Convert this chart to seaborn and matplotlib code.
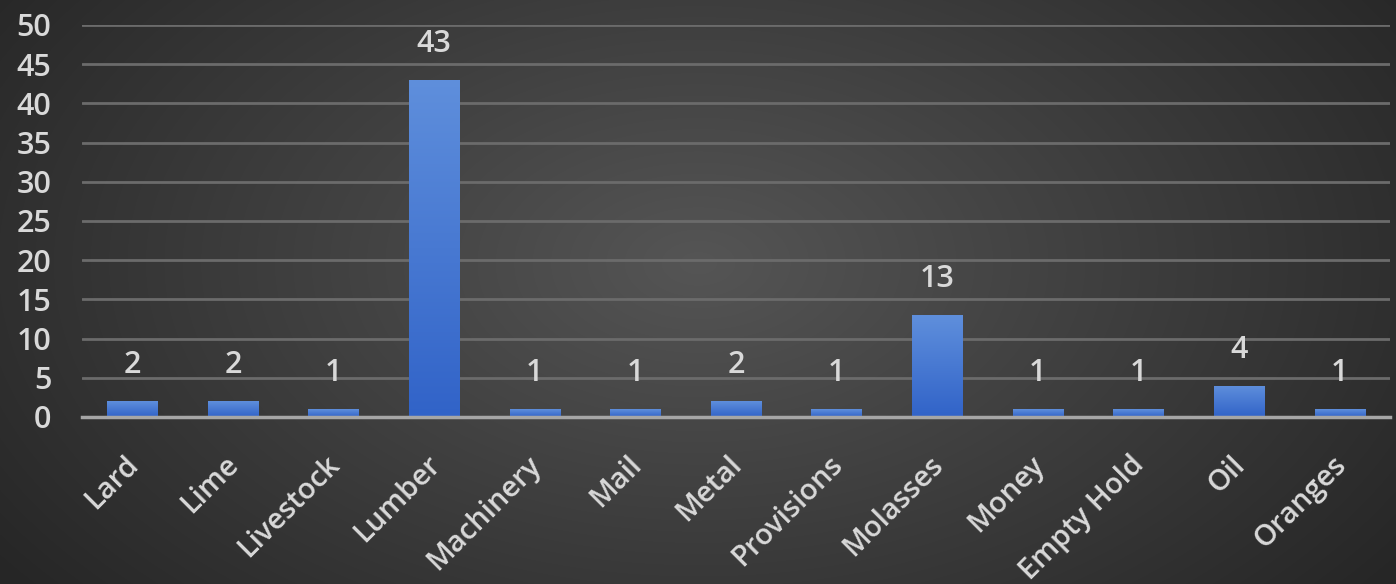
import numpy as np
import pandas as pd
import matplotlib
matplotlib.use("Agg")
import matplotlib.pyplot as plt
import matplotlib.transforms as mtransforms
import seaborn as sns
from matplotlib.colors import LinearSegmentedColormap

categories = ["Lard", "Lime", "Livestock", "Lumber", "Machinery", "Mail", "Metal",
              "Provisions", "Molasses", "Money", "Empty Hold", "Oil", "Oranges"]
counts = [2, 2, 1, 43, 1, 1, 2, 1, 13, 1, 1, 4, 1]
yticks = [0, 5, 10, 15, 20, 25, 30, 35, 40, 45, 50]

df = pd.DataFrame({"cargo": categories, "count": counts})

sns.set_theme(style="dark")
plt.rcParams["font.family"] = ["Open Sans", "DejaVu Sans"]
plt.rcParams["font.weight"] = "semibold"

W, H, DPI = 1396, 584, 100
fig = plt.figure(figsize=(W / DPI, H / DPI), dpi=DPI)

# radial gradient background
bg = fig.add_axes([0, 0, 1, 1], zorder=-10)
yy, xx = np.mgrid[0:H, 0:W]
r = np.sqrt(((xx - W * 0.5) / (W * 0.62)) ** 2 + ((yy - H * 0.45) / (H * 0.9)) ** 2)
r = np.clip(r, 0, 1)
c0 = np.array([0x55, 0x55, 0x55]) / 255
c1 = np.array([0x26, 0x26, 0x26]) / 255
img = c0[None, None, :] * (1 - r[..., None]) + c1[None, None, :] * r[..., None]
bg.imshow(img, aspect="auto", extent=[0, 1, 0, 1])
bg.axis("off")

ax = fig.add_axes([82 / W, 1 - 417 / H, (1390 - 82) / W, (417 - 25) / H])
ax.patch.set_alpha(0)
sns.barplot(data=df, x="cargo", y="count", color="#4472C4", width=0.5, ax=ax,
            saturation=1)

ax.set_ylim(0, 50)
ax.set_xlim(-0.5, len(categories) - 0.5)
ax.set_yticks(yticks)
ax.set_yticklabels([str(t) for t in yticks])
ax.yaxis.grid(True, color="#6b6b6b", linewidth=2, zorder=0)
ax.xaxis.grid(False)
ax.set_axisbelow(True)
for s in ["top", "right", "left"]:
    ax.spines[s].set_visible(False)
ax.spines["bottom"].set_color("#a6a6a6")
ax.spines["bottom"].set_linewidth(2.5)
ax.spines["bottom"].set_zorder(5)
ax.set_xlabel("")
ax.set_ylabel("")

ax.tick_params(axis="y", colors="#d9d9d9", labelsize=22, length=0, pad=22)
ax.tick_params(axis="x", colors="#d9d9d9", labelsize=21, length=0, pad=24)
ax.set_xticks(range(len(categories)))
ax.set_xticklabels(categories, rotation=45, ha="right", rotation_mode="anchor")
shift = mtransforms.ScaledTranslation(-6 / 72, 0, fig.dpi_scale_trans)
for lbl in ax.get_xticklabels():
    lbl.set_transform(lbl.get_transform() + shift)

# gradient fill on bars
cmap = LinearSegmentedColormap.from_list("bar", ["#3163C8", "#5F8FDC"])
grad = np.linspace(0, 1, 256).reshape(-1, 1)
for p in ax.patches:
    x0, y0 = p.get_x(), p.get_y()
    w, h = p.get_width(), p.get_height()
    p.set_facecolor("none")
    p.set_edgecolor("none")
    im = ax.imshow(grad, cmap=cmap, origin="lower", aspect="auto",
                   extent=[x0, x0 + w, y0, y0 + h], zorder=3)
    im.set_clip_path(p)

ax.set_xlim(-0.5, len(categories) - 0.5)
ax.set_ylim(0, 50)

for i, v in enumerate(counts):
    ax.annotate(str(v), (i, v), xytext=(0, 15), textcoords="offset points",
                ha="center", va="bottom", color="#d9d9d9", fontsize=22)

fig.savefig("out.png", dpi=DPI)
